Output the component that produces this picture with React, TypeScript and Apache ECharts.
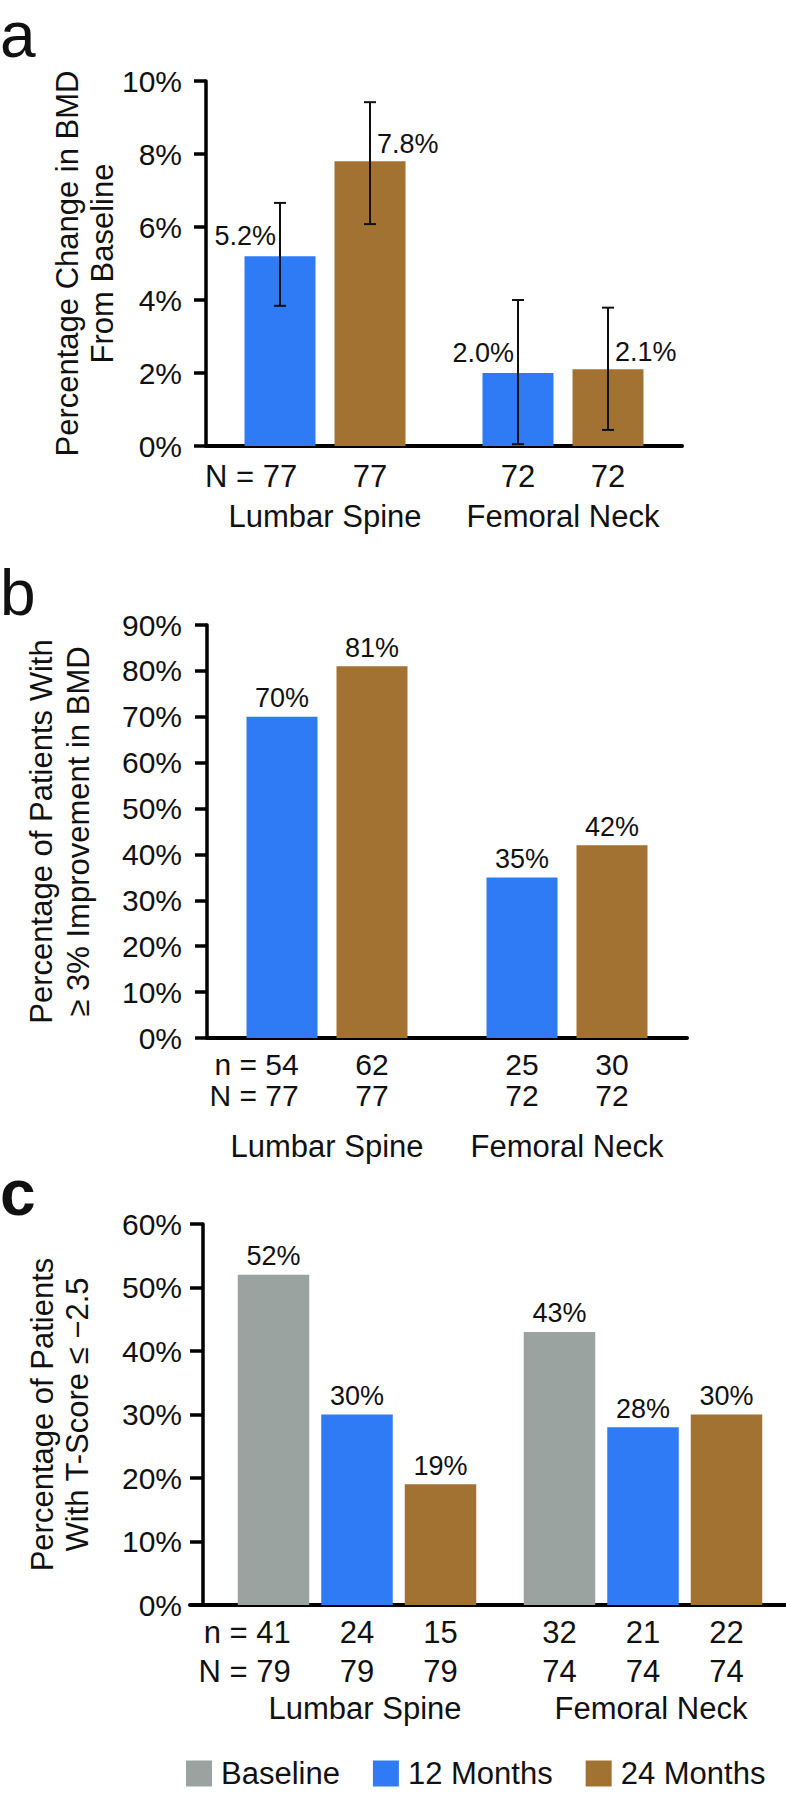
import React, { useEffect, useRef } from "react";
import * as echarts from "echarts";

// ---------- data ----------
const categories = ["Lumbar Spine", "Femoral Neck"];
const legendNames = ["Baseline", "12 Months", "24 Months"];

// panel a: percentage change in BMD (mean with error bars)
const aMonth12 = [5.2, 2.0];
const aMonth24 = [7.8, 2.1];
const aMonth12Low = [3.84, 0.05];
const aMonth12High = [6.66, 4.0];
const aMonth24Low = [6.08, 0.44];
const aMonth24High = [9.42, 3.79];
const aN12 = [77, 72];
const aN24 = [77, 72];
const aTicks = [0, 2, 4, 6, 8, 10];

// panel b: % of patients with >= 3% improvement
const bMonth12 = [70, 35];
const bMonth24 = [81, 42];
const bn12 = [54, 25];
const bn24 = [62, 30];
const bN12 = [77, 72];
const bN24 = [77, 72];
const bTicks = [0, 10, 20, 30, 40, 50, 60, 70, 80, 90];

// panel c: % of patients with T-score <= -2.5
const cBaseline = [52, 43];
const cMonth12 = [30, 28];
const cMonth24 = [19, 30];
const cnBaseline = [41, 32];
const cn12 = [24, 21];
const cn24 = [15, 22];
const cNBaseline = [79, 74];
const cN12 = [79, 74];
const cN24 = [79, 74];
const cTicks = [0, 10, 20, 30, 40, 50, 60];

// ---------- style ----------
const FONT = '"Liberation Sans", Arial, Helvetica, sans-serif';
const INK = "#111";
const GRAY = "#9AA39F";
const BLUE = "#2F7BF5";
const BROWN = "#A27232";

const BAR_AB = 71;
const GAP_AB = 19;
const BAR_C = 71.5;
const GAP_C = 12;
const CAT_FONT = 31;

function yAxisCfg(gridIndex: number, ticks: number[], margin: number, tickLen: number, offset: number) {
  return {
    type: "value",
    gridIndex,
    offset,
    min: ticks[0],
    max: ticks[ticks.length - 1],
    interval: ticks[1] - ticks[0],
    axisLine: { show: true, lineStyle: { color: "#000", width: 3.5 } },
    axisTick: { show: true, length: tickLen, lineStyle: { color: "#000", width: 3.5 } },
    splitLine: { show: false },
    axisLabel: {
      formatter: "{value}%",
      fontSize: 30,
      color: INK,
      fontFamily: FONT,
      margin,
    },
  };
}

function xAxisCfg(gridIndex: number, margin: number, padding: number[], showLine: boolean) {
  return {
    type: "category",
    gridIndex,
    data: categories,
    axisLine: { show: showLine, lineStyle: { color: "#000", width: 4 } },
    axisTick: { show: false },
    axisLabel: {
      interval: 0,
      fontSize: CAT_FONT,
      lineHeight: CAT_FONT,
      color: INK,
      fontFamily: FONT,
      margin,
      padding,
    },
  };
}

function valueLabel(fmt: (v: number) => string, extra: any) {
  return {
    show: true,
    position: "top",
    fontSize: 27,
    lineHeight: 27,
    color: INK,
    fontFamily: FONT,
    formatter: (p: any) => fmt(p.value as number),
    ...extra,
  };
}

function barSeries(name: string, color: string, data: number[], idx: number, bw: number, gap: number, label: any) {
  return {
    type: "bar",
    name,
    xAxisIndex: idx,
    yAxisIndex: idx,
    data,
    barWidth: bw,
    barGap: `${(gap / bw) * 100}%`,
    itemStyle: { color },
    label,
    z: 2,
  };
}

// annotation renderer: error bars + n/N rows under each bar
function makeAnnot(
  k: number,
  bw: number,
  gap: number,
  rowOffsets: number[],
  prefixes: string[],
  withErr: boolean,
  fontSize: number,
  lineHeight: number
) {
  return (params: any, api: any) => {
    const c = api.value(0) as number;
    const s = api.value(1) as number;
    const base = api.coord([c, 0]);
    const x = base[0] + (s - (k - 1) / 2) * (bw + gap);
    const y0 = base[1];
    const children: any[] = [];
    const lineStyle = { stroke: INK, lineWidth: 2 };
    if (withErr) {
      const yLo = api.coord([c, api.value(2)])[1];
      const yHi = api.coord([c, api.value(3)])[1];
      children.push({ type: "line", shape: { x1: x, y1: yLo, x2: x, y2: yHi }, style: lineStyle });
      children.push({ type: "line", shape: { x1: x - 6, y1: yLo, x2: x + 6, y2: yLo }, style: lineStyle });
      children.push({ type: "line", shape: { x1: x - 6, y1: yHi, x2: x + 6, y2: yHi }, style: lineStyle });
    }
    rowOffsets.forEach((dy, r) => {
      const v = api.value(4 + r);
      const txt = String(v);
      const common = {
        fill: INK,
        fontSize,
        lineHeight,
        fontFamily: FONT,
        verticalAlign: "middle",
      };
      children.push({
        type: "text",
        x,
        y: y0 + dy,
        style: { ...common, text: txt, align: "center" },
      });
      if (params.dataIndex === 0) {
        const half = (0.556 * fontSize * txt.length) / 2;
        children.push({
          type: "text",
          x: x - half - 0.278 * fontSize,
          y: y0 + dy,
          style: { ...common, text: prefixes[r], align: "right" },
        });
      }
    });
    return { type: "group", children };
  };
}

function annotSeries(idx: number, data: any[], render: any) {
  return {
    type: "custom",
    name: `annot-${idx}`,
    coordinateSystem: "cartesian2d",
    xAxisIndex: idx,
    yAxisIndex: idx,
    encode: { x: 0, y: 2 },
    data,
    renderItem: render,
    silent: true,
    z: 5,
  };
}

function buildOption() {
  const fmt1 = (v: number) => `${v.toFixed(1)}%`;
  const fmt0 = (v: number) => `${v}%`;

  // annotation data: [category, slot, low, high, row1, row2]
  const annotA = categories.flatMap((_, c) => [
    [c, 0, aMonth12Low[c], aMonth12High[c], aN12[c]],
    [c, 1, aMonth24Low[c], aMonth24High[c], aN24[c]],
  ]);
  const annotB = categories.flatMap((_, c) => [
    [c, 0, 0, 0, bn12[c], bN12[c]],
    [c, 1, 0, 0, bn24[c], bN24[c]],
  ]);
  const annotC = categories.flatMap((_, c) => [
    [c, 0, 0, 0, cnBaseline[c], cNBaseline[c]],
    [c, 1, 0, 0, cn12[c], cN12[c]],
    [c, 2, 0, 0, cn24[c], cN24[c]],
  ]);

  const titleStyle = (text: string, lh: number) => ({
    text,
    fill: INK,
    fontSize: 31,
    lineHeight: lh,
    fontFamily: FONT,
    align: "center",
    verticalAlign: "middle",
  });
  const letterStyle = (text: string, bold: boolean) => ({
    text,
    fill: INK,
    fontSize: 64,
    fontWeight: bold ? "bold" : "normal",
    fontFamily: FONT,
    align: "left",
    verticalAlign: "middle",
  });

  return {
    animation: false,
    backgroundColor: "#fff",
    grid: [
      { left: 206, top: 81, width: 476, height: 365 },
      { left: 207, top: 625, width: 480, height: 413 },
      { left: 214, top: 1224, width: 572, height: 381 },
      // base line of panel c, running from the y-axis tick to the right edge
      { left: 190, top: 1224, width: 600, height: 381 },
    ],
    xAxis: [
      xAxisCfg(0, 55, [0, 0, 0, 0], true),
      xAxisCfg(1, 93, [0, 0, 0, 0], true),
      xAxisCfg(2, 88, [0, 0, 0, 16], false),
      {
        type: "value",
        gridIndex: 3,
        min: 0,
        max: 1,
        axisLine: { show: true, lineStyle: { color: "#000", width: 4 } },
        axisTick: { show: false },
        axisLabel: { show: false },
        splitLine: { show: false },
      },
    ],
    yAxis: [
      yAxisCfg(0, aTicks, 24, 12, 0),
      yAxisCfg(1, bTicks, 25, 12, 0),
      yAxisCfg(2, cTicks, 21, 13, 11),
      { type: "value", gridIndex: 3, show: false, min: 0, max: 1 },
    ],
    legend: {
      data: legendNames,
      left: 186,
      top: 1758,
      padding: 0,
      itemWidth: 26,
      itemHeight: 26,
      itemGap: 33,
      icon: "rect",
      selectedMode: false,
      textStyle: { fontSize: 31, color: INK, fontFamily: FONT, padding: [0, 0, 0, 4] },
    },
    graphic: [
      { type: "text", x: 0, y: 35, style: letterStyle("a", false) },
      { type: "text", x: 0, y: 593, style: letterStyle("b", false) },
      { type: "text", x: 0, y: 1193, style: letterStyle("c", true) },
      { type: "text", x: 84.5, y: 263.5, rotation: Math.PI / 2, style: titleStyle("Percentage Change in BMD\nFrom Baseline", 35) },
      { type: "text", x: 59.5, y: 831.5, rotation: Math.PI / 2, style: titleStyle("Percentage of Patients With\n\u2265 3% Improvement in BMD", 37) },
      { type: "text", x: 59.5, y: 1414.5, rotation: Math.PI / 2, style: titleStyle("Percentage of Patients\nWith T-Score \u2264 \u22122.5", 35) },
    ],
    series: [
      // panel a
      barSeries("12 Months", BLUE, aMonth12, 0, BAR_AB, GAP_AB, valueLabel(fmt1, { align: "right", offset: [-4, 0], distance: 7 })),
      barSeries("24 Months", BROWN, aMonth24, 0, BAR_AB, GAP_AB, valueLabel(fmt1, { align: "left", offset: [7, 0], distance: 4 })),
      annotSeries(0, annotA, makeAnnot(2, BAR_AB, GAP_AB, [30], ["N ="], true, 31, 31)),
      // panel b
      barSeries("12 Months", BLUE, bMonth12, 1, BAR_AB, GAP_AB, valueLabel(fmt0, { distance: 5 })),
      barSeries("24 Months", BROWN, bMonth24, 1, BAR_AB, GAP_AB, valueLabel(fmt0, { distance: 5 })),
      annotSeries(1, annotB, makeAnnot(2, BAR_AB, GAP_AB, [26, 57], ["n =", "N ="], false, 30, 29)),
      // panel c
      barSeries("Baseline", GRAY, cBaseline, 2, BAR_C, GAP_C, valueLabel(fmt0, { distance: 5 })),
      barSeries("12 Months", BLUE, cMonth12, 2, BAR_C, GAP_C, valueLabel(fmt0, { distance: 5 })),
      barSeries("24 Months", BROWN, cMonth24, 2, BAR_C, GAP_C, valueLabel(fmt0, { distance: 5 })),
      annotSeries(2, annotC, makeAnnot(3, BAR_C, GAP_C, [27, 66], ["n =", "N ="], false, 31, 31)),
    ],
  };
}

export default function App() {
  const ref = useRef<HTMLDivElement>(null);
  useEffect(() => {
    if (!ref.current) return;
    const chart = echarts.init(ref.current, undefined, { renderer: "svg" });
    chart.setOption(buildOption() as any);
    return () => chart.dispose();
  }, []);
  return (
    <div
      ref={ref}
      style={{ position: "absolute", left: 0, top: 0, width: 786, height: 1797, background: "#fff" }}
    />
  );
}
